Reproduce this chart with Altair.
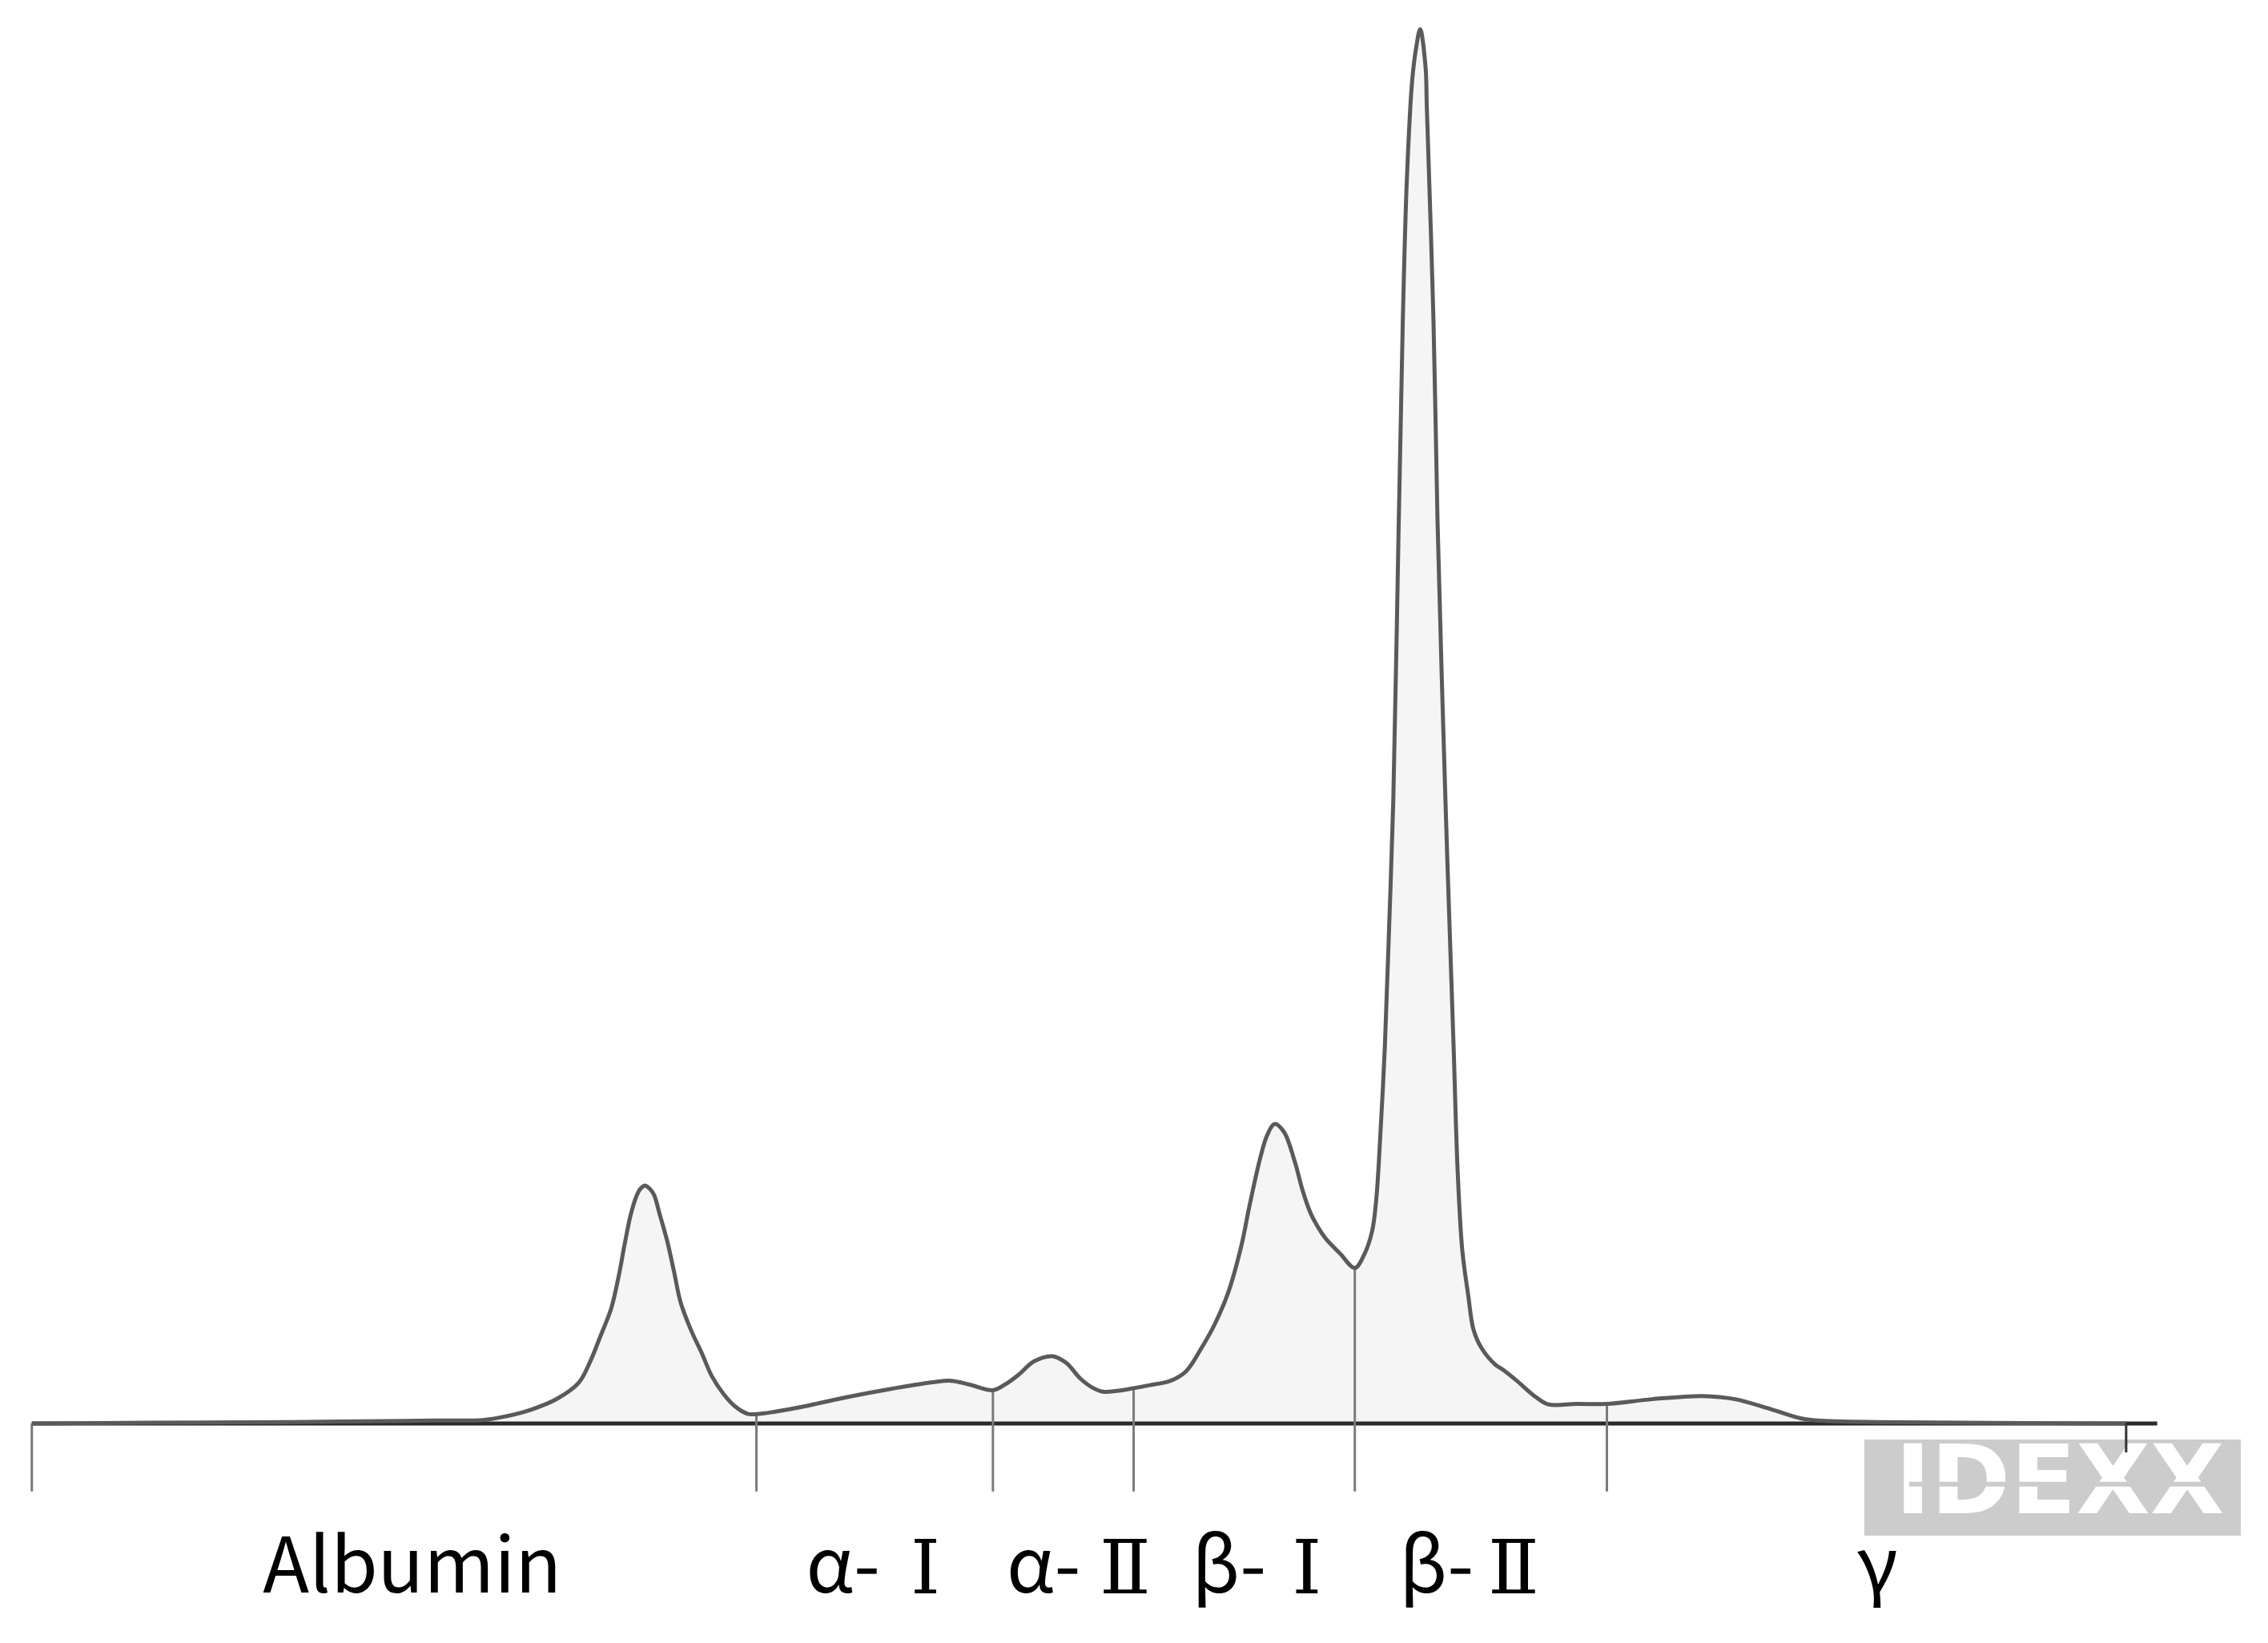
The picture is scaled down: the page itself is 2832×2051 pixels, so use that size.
import altair as alt
import pandas as pd

# Densitometer scan: position along the strip (scan units) and density (arbitrary units)
scan_pos = [22, 100, 200, 300, 335, 350, 367, 385, 400, 408, 415, 422.6, 428, 431.9, 436,
            440.2, 443, 446, 449, 452.2, 456, 461.4, 466, 470.7, 478, 485.4, 492, 500.2, 508, 516.8,
            523, 535, 553.7, 576, 600, 625, 645, 657.6, 670, 686.5, 695, 704, 715, 727.6,
            737, 747, 755, 762.5, 772, 783.8, 795, 809, 820, 830.6, 839.8, 849, 858.3,
            863.8, 871.2, 876, 881.3, 887.8, 895.2, 900.7, 906.3, 913.6, 917.3, 926.5,
            936.7, 943.1, 948.7, 951.4, 953.3, 957.5, 960.5, 963.3, 967.1, 969.9, 972.7,
            976.4, 979.1, 981.9, 985.6, 986.5, 991.1, 993.9, 999.4, 1005, 1007.8, 1011,
            1015.1, 1018.8, 1024.4, 1033.6, 1039.1, 1048.4, 1061.3, 1070.5, 1090, 1111,
            1142.5, 1177.5, 1199.7, 1225.5, 1247.7, 1270, 1300, 1400, 1470]
density = [0, 0.5, 1, 2, 2.5, 5, 9.5, 17, 28, 42.7, 60, 79.6, 103, 124, 144,
           157.5, 162.5, 164.5, 162.5, 158, 145, 125.7, 105, 83.3, 64, 48.2, 33, 20.5, 12, 6.7,
           6.5, 8, 11.3, 16.2, 21, 25.5, 28.5, 29.5, 27, 23, 27, 33.5, 43, 46.5,
           42, 31, 25, 22, 22.5, 24.4, 26.5, 29.4, 36, 52, 68.5, 90, 123,
           150, 183, 199, 207, 201.4, 181, 160.8, 145, 132, 127, 117.5,
           107.5, 116.5, 133, 153.4, 180, 261, 345, 430, 624, 762.5, 860,
           928.6, 950.8, 963.7, 938, 910, 762.5, 624, 430, 261, 175, 120,
           88.8, 64.8, 52, 40.9, 37.2, 29.8, 18.7, 13.2, 13.5, 13.5,
           16.8, 19, 16.8, 9.5, 3, 1.5, 1, 0.3, 0]

# Fraction dividers
divider_pos = [22, 523, 686.5, 783.8, 936.7, 1111]
divider_top = [0, 6.5, 23, 24.4, 107.5, 13.5]

# Fraction labels (Greek prefix and Roman numeral drawn in their own fonts)
plain_labels = ["Albumin", "γ"]
plain_label_pos = [285, 1298]
greek_prefix = ["α-", "α-", "β-", "β-"]
greek_prefix_pos = [582.9, 721.6, 849.8, 993.2]
numerals = ["Ⅰ", "Ⅱ", "Ⅰ", "Ⅱ"]
numeral_pos = [639.8, 777.9, 903.5, 1046.5]

# Watermark
logo_word = ["IDEXX"]
logo_word_pos = [1424]

curve = pd.DataFrame({"pos": scan_pos, "density": density, "zero": [0] * len(scan_pos)})
divs = pd.DataFrame({"pos": divider_pos, "top": divider_top, "bottom": [-47] * len(divider_pos)})
plain_df = pd.DataFrame({"t": plain_labels, "pos": plain_label_pos, "y": [-117] * 2})
prefix_df = pd.DataFrame({"t": greek_prefix, "pos": greek_prefix_pos, "y": [-117] * 4})
numeral_df = pd.DataFrame({"t": numerals, "pos": numeral_pos, "y": [-117.5] * 4})
logo_df = pd.DataFrame({"t": logo_word, "pos": logo_word_pos, "y": [-42]})
base_df = pd.DataFrame({"x": [22], "x2": [1491.5], "y": [0]})
box_df = pd.DataFrame({"x": [1289], "x2": [1549.3], "y": [-11.1], "y2": [-77.5]})
stripe_df = pd.DataFrame({"x": [1320], "x2": [1545], "y": [-42]})
tick_df = pd.DataFrame({"x": [1470], "y": [0], "y2": [-20]})

xs = alt.Scale(domain=[4.43, 1554.8], nice=False, zero=False)
ys = alt.Scale(domain=[-139.0, 979.5], nice=False, zero=False)


def X(f):
    return alt.X(f, type="quantitative", scale=xs, axis=None)


def Y(f):
    return alt.Y(f, type="quantitative", scale=ys, axis=None)


area = alt.Chart(curve).mark_area(color="#f5f5f5", interpolate="catmull-rom").encode(
    x=X("pos"), y=Y("density"), y2="zero:Q"
)

baseline = alt.Chart(base_df).mark_rule(color="#2b2b2b", strokeWidth=5).encode(
    x=X("x"), x2="x2:Q", y=Y("y")
)

dividers = alt.Chart(divs).mark_rule(color="#7a7a7a", strokeWidth=3).encode(
    x=X("pos"), y=Y("top"), y2="bottom:Q"
)

line = alt.Chart(curve).mark_line(color="#5a5a5a", strokeWidth=5, interpolate="catmull-rom").encode(
    x=X("pos"), y=Y("density")
)

plain_text = alt.Chart(plain_df).mark_text(
    font="Noto Sans CJK KR", fontSize=95, baseline="alphabetic", align="center", color="#000000"
).encode(x=X("pos"), y=Y("y"), text="t:N")

prefix_text = alt.Chart(prefix_df).mark_text(
    font="Noto Sans CJK KR", fontSize=95, baseline="alphabetic", align="center", color="#000000"
).encode(x=X("pos"), y=Y("y"), text="t:N")

numeral_text = alt.Chart(numeral_df).mark_text(
    font="DejaVu Serif", fontSize=94, baseline="alphabetic", align="center", color="#000000"
).encode(x=X("pos"), y=Y("y"), text="t:N")

logo_box = alt.Chart(box_df).mark_rect(color="#cccccc").encode(
    x=X("x"), x2="x2:Q", y=Y("y"), y2="y2:Q"
)

logo_text = alt.Chart(logo_df).mark_text(
    font="DejaVu Sans", fontWeight="bold", fontSize=120, baseline="middle", align="center", color="#ffffff"
).encode(x=X("pos"), y=Y("y"), text="t:N")

logo_stripe = alt.Chart(stripe_df).mark_rule(color="#cccccc", strokeWidth=6).encode(
    x=X("x"), x2="x2:Q", y=Y("y")
)

end_tick = alt.Chart(tick_df).mark_rule(color="#333333", strokeWidth=3).encode(
    x=X("x"), y=Y("y"), y2="y2:Q"
)

chart = alt.layer(
    area, baseline, dividers, line, plain_text, prefix_text, numeral_text,
    logo_box, logo_text, logo_stripe, end_tick
).properties(
    width=2800, height=2020, autosize=alt.AutoSizeParams(type="none"), padding=0,
    background="#ffffff"
).configure_view(stroke=None)

chart.save("out.html", embed_options={"renderer": "svg", "actions": False})
